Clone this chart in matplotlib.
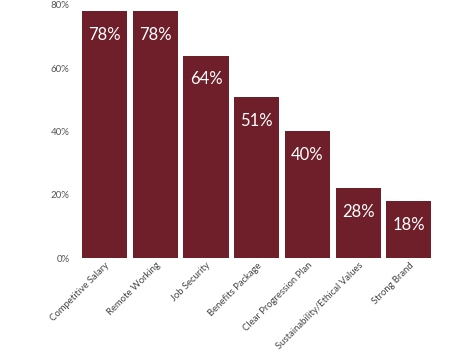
import matplotlib.pyplot as plt

# data
categories = ['Competitive Salary', 'Remote Working', 'Job Security', 'Benefits Package',
              'Clear Progression Plan', 'Sustainability/Ethical Values', 'Strong Brand']
heights = [78, 78, 64, 51, 40, 22, 18]       # bar heights as drawn
bar_labels = ['78%', '78%', '64%', '51%', '40%', '28%', '18%']   # text printed on bars
yticks = [0, 20, 40, 60, 80]

plt.rcParams['font.family'] = ['Lato', 'DejaVu Sans']

fig = plt.figure(figsize=(4.71, 3.53), dpi=100)
ax = fig.add_axes([0.168, 0.269, 0.754, 0.717])

bars = ax.bar(range(len(categories)), heights, width=0.89, color='#6e1f29')

for b, lab in zip(bars, bar_labels):
    ax.text(b.get_x() + b.get_width() / 2, b.get_height() - 5.0, lab,
            ha='center', va='top', color='white', fontsize=12)

ax.set_xlim(-0.5, len(categories) - 0.5)
ax.set_ylim(0, 80)
ax.set_yticks(yticks)
ax.set_yticklabels(['%d%%' % t for t in yticks], fontsize=7, color='#555555')
ax.set_xticks(range(len(categories)))
ax.set_xticklabels(categories, rotation=45, ha='right', rotation_mode='anchor',
                   fontsize=6.8, color='#444444')
ax.tick_params(length=0)
ax.tick_params(axis='y', pad=7)
ax.tick_params(axis='x', pad=2)
for s in ax.spines.values():
    s.set_visible(False)

fig.savefig('out.png', dpi=100)
